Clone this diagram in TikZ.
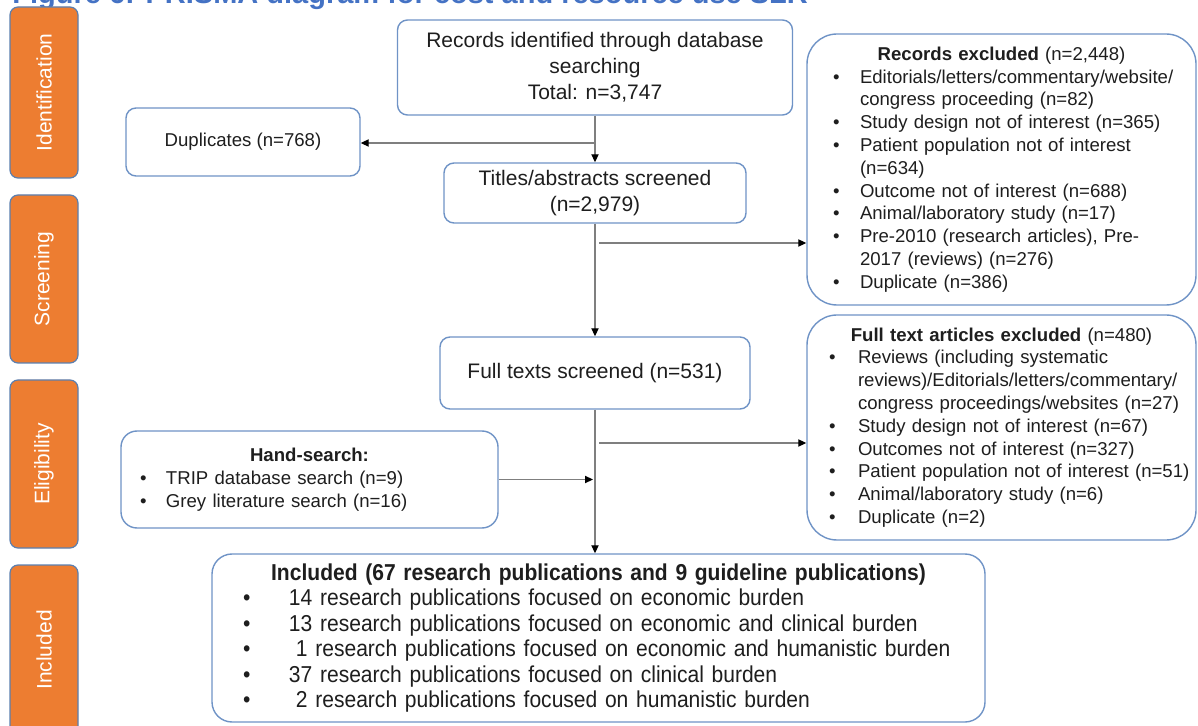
\documentclass[tikz,border=0pt]{standalone}
\usepackage{fontspec}
\setmainfont{Liberation Sans}
\newfontfamily\narrowsans[FakeStretch=0.915]{Liberation Sans}
\usetikzlibrary{arrows.meta}
\definecolor{BoxBlue}{HTML}{6F93C6}
\definecolor{PhaseOrange}{HTML}{ED7D31}
\definecolor{PhaseEdge}{HTML}{5B7FAF}
\definecolor{LineGrey}{HTML}{7F7F7F}
\definecolor{TitleBlue}{HTML}{4472C4}
\definecolor{InkGrey}{HTML}{1E1E1E}
\newcommand{\bul}[1][14pt]{\par\hangindent=#1\hangafter=1\noindent\makebox[#1][l]{\textbullet}\ignorespaces}
\newcommand{\boxhead}[1]{{\leftskip=0pt plus 1fil\rightskip=0pt plus 1fil\parfillskip=0pt\noindent#1\par}}

\begin{document}
\begin{tikzpicture}[x=0.5pt,y=-0.5pt,
  phase/.style={rectangle,rounded corners=4pt,draw=PhaseEdge,line width=0.6pt,fill=PhaseOrange,text=white,rotate=90,minimum height=34pt,font=\fontsize{10.5}{12}\selectfont},
  stage/.style={rectangle,rounded corners=5pt,draw=BoxBlue,line width=0.7pt,fill=white,text=InkGrey,align=center,inner sep=0pt,font=\fontsize{10.5}{13}\selectfont},
  listbox/.style={rectangle,draw=BoxBlue,line width=0.7pt,fill=white,text=InkGrey,inner sep=0pt,font=\fontsize{9.3}{11.4}\selectfont},
  arrow/.style={-{Triangle[length=4pt,width=3.6pt,color=black]},draw=LineGrey,line width=0.6pt}
]
\useasboundingbox (0,0) rectangle (1198,726);
\node[anchor=base west,inner sep=0pt,text=TitleBlue,font=\bfseries\fontsize{14.5}{16}\selectfont] (caption) at (12,4) {Figure 6: PRISMA diagram for cost and resource use SLR};
\node[phase,minimum width=85.5pt] (pid) at (44,92.5) {Identification};
\node[phase,minimum width=84pt] (pscr) at (44,279) {Screening};
\node[phase,minimum width=84pt] (pelig) at (44,464) {Eligibility};
\node[phase,minimum width=85pt] (pinc) at (44,650) {Included};
\node[stage,minimum width=197.5pt,minimum height=47.5pt] (ident) at (595,67.5) {Records identified through database\\searching\\Total: n=3,747};
\node[stage,minimum width=117pt,minimum height=34pt,font=\fontsize{9.3}{11}\selectfont] (dup) at (243,142) {Duplicates (n=768)};
\node[stage,minimum width=151pt,minimum height=30pt] (titles) at (595,193) {Titles/abstracts screened\\(n=2,979)};
\node[stage,minimum width=155pt,minimum height=36pt] (fulltxt) at (595,373) {Full texts screened (n=531)};
\node[listbox,rounded corners=15pt,text width=194.5pt,minimum height=135.5pt] (recex) at (1001.5,169.5) {%
  \boxhead{\textbf{Records excluded} (n=2,448)}
  \leftskip=13pt\rightskip=0pt plus 1fil
  \bul[13.5pt] Editorials/letters/commentary/website/\newline congress proceeding (n=82)
  \bul[13.5pt] Study design not of interest (n=365)
  \bul[13.5pt] Patient population not of interest\newline (n=634)
  \bul[13.5pt] Outcome not of interest (n=688)
  \bul[13.5pt] Animal/laboratory study (n=17)
  \bul[13.5pt] Pre-2010 (research articles), Pre-\newline 2017 (reviews) (n=276)
  \bul[13.5pt] Duplicate (n=386)\par};
\node[listbox,rounded corners=15pt,text width=194.5pt,minimum height=112.5pt] (ftex) at (1001.5,427.5) {%
  \boxhead{\textbf{Full text articles excluded} (n=480)}
  \leftskip=11pt\rightskip=0pt plus 1fil
  \bul[14.5pt] Reviews (including systematic\newline reviews)/Editorials/letters/commentary/\newline congress proceedings/websites (n=27)
  \bul[14.5pt] Study design not of interest (n=67)
  \bul[14.5pt] Outcomes not of interest (n=327)
  \bul[14.5pt] Patient population not of interest (n=51)
  \bul[14.5pt] Animal/laboratory study (n=6)
  \bul[14.5pt] Duplicate (n=2)\par};
\node[listbox,rounded corners=8pt,text width=188.5pt,minimum height=48.5pt] (hand) at (309.5,479.5) {%
  \boxhead{\textbf{Hand-search:}}
  \leftskip=9.5pt\rightskip=0pt plus 1fil
  \bul[13pt] TRIP database search (n=9)
  \bul[13pt] Grey literature search (n=16)\par};
\node[listbox,rounded corners=10pt,text width=386.5pt,minimum height=84pt,font=\narrowsans\fontsize{11.5}{12.75}\selectfont] (incl) at (598.5,638) {%
  \boxhead{\bfseries Included (67 research publications and 9 guideline publications)}
  \leftskip=15.5pt\rightskip=0pt plus 1fil
  \bul[23pt] 14 research publications focused on economic burden
  \bul[23pt] 13 research publications focused on economic and clinical burden
  \bul[23pt] \hspace{3.5pt}1 research publications focused on economic and humanistic burden
  \bul[23pt] 37 research publications focused on clinical burden
  \bul[23pt] \hspace{3.5pt}2 research publications focused on humanistic burden\par};
\coordinate (j1) at (595,143);
\coordinate (j2) at (599,243);
\coordinate (j3) at (599,443);
\coordinate (j4) at (593,479.5);
\draw[arrow] (ident) -- (titles);
\draw[arrow] (j1) -- (j1 -| dup.east);
\draw[arrow] (titles) -- (fulltxt);
\draw[arrow] (j2) -- (j2 -| recex.west);
\draw[arrow] (fulltxt.south) -- (fulltxt.south |- incl.north);
\draw[arrow] (j3) -- (j3 -| ftex.west);
\draw[arrow] (hand) -- (j4);
\end{tikzpicture}
\end{document}
